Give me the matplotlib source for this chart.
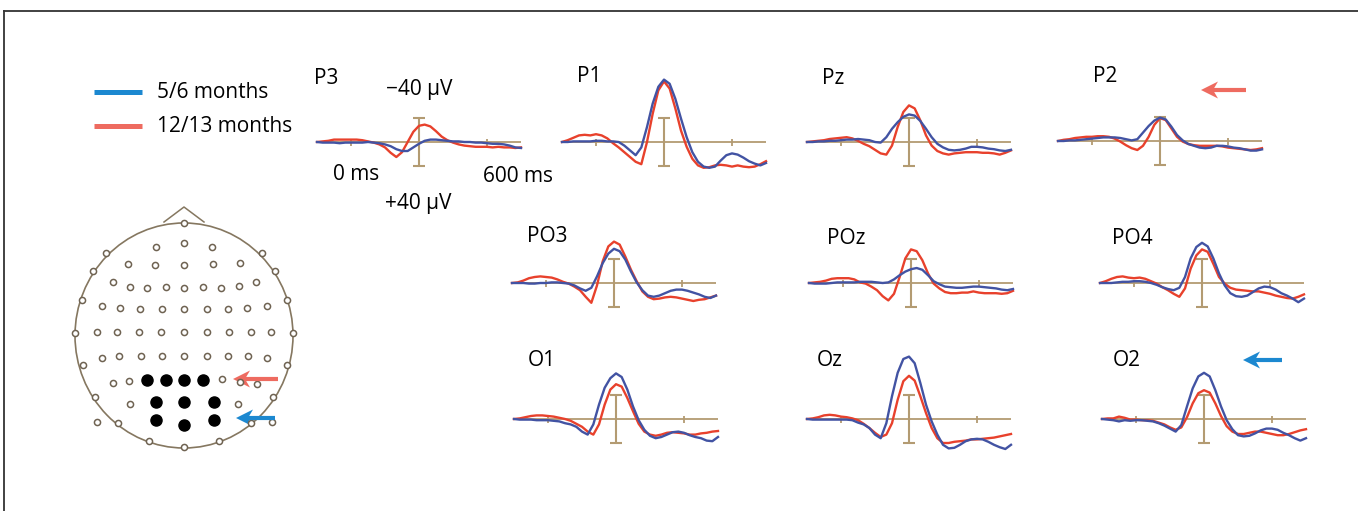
import matplotlib
matplotlib.use('Agg')
import matplotlib.pyplot as plt
from matplotlib.patches import Ellipse, Polygon
import numpy as np

W, H, DPI = 1358, 511, 100

# 采样时间 (ms)，每 25 ms 一个点
times = np.arange(-150, 751, 25)

# 振幅 (µV)，ERP 习惯：负值向上
# 5/6 months
p3_young = [0, 1, 1, 1, 2, 1, 1, 1, 1, 0, 1, 2, 4, 7, 12, 15, 15, 9, 3, -2, -4, -4, -3, -2, -1, -1, 0, 0, 1, 1, 2, 3, 3, 4, 6, 9, 10]
p1_young = [0, 0, -1, -1, -1, -1, -2, -2, -1, -1, 0, 6, 14, 22, 9, -25, -64, -92, -104, -97, -72, -39, -8, 17, 33, 41, 43, 41, 31, 22, 19, 21, 26, 32, 36, 39, 35]
pz_young = [0, 0, -1, -1, -2, -2, -3, -4, -4, -5, -4, -3, 0, 1, -8, -22, -33, -42, -46, -44, -35, -22, -8, 3, 9, 13, 14, 13, 11, 8, 8, 9, 11, 12, 14, 15, 13]
p2_young = [0, 0, -1, -1, -2, -3, -4, -5, -6, -6, -6, -5, -3, -1, -3, -14, -25, -34, -39, -36, -24, -10, -1, 5, 8, 11, 12, 11, 8, 8, 9, 11, 12, 14, 16, 16, 14]
po3_young = [0, 0, 0, 1, 1, 0, 0, -1, -1, 0, 1, 4, 9, 13, 8, -11, -33, -49, -57, -53, -39, -19, -1, 12, 21, 23, 21, 17, 13, 11, 11, 13, 16, 19, 23, 25, 21]
poz_young = [0, 1, 1, 1, 0, -1, -1, -1, -1, -2, -2, -2, -1, 0, -1, -6, -13, -19, -23, -25, -22, -13, -3, 2, 6, 7, 8, 8, 7, 6, 6, 7, 8, 9, 11, 12, 10]
po4_young = [0, 0, 0, -1, -2, -2, -3, -3, -2, 0, 3, 7, 10, 12, 8, -10, -41, -60, -67, -61, -41, -16, 4, 17, 22, 23, 21, 15, 9, 6, 7, 11, 17, 21, 26, 32, 26]
o1_young = [0, 1, 1, 1, 2, 2, 2, 3, 4, 7, 9, 13, 21, 26, 9, -24, -52, -68, -76, -70, -49, -21, 2, 18, 28, 32, 30, 26, 22, 21, 23, 27, 30, 32, 36, 37, 30]
oz_young = [0, 1, 1, 1, 1, 1, 1, 1, 2, 6, 9, 15, 26, 32, 7, -38, -77, -100, -104, -93, -60, -24, 4, 26, 43, 49, 48, 43, 37, 34, 33, 34, 38, 43, 47, 50, 43]
o2_young = [0, 1, 2, 4, 2, 3, 2, 2, 3, 4, 7, 11, 16, 21, 10, -21, -51, -71, -77, -71, -48, -21, 2, 17, 27, 29, 28, 24, 19, 16, 16, 18, 23, 27, 32, 36, 32]

# 12/13 months
p3_old = [0, -1, -2, -4, -4, -4, -4, -4, -3, -1, 1, 4, 9, 18, 25, 17, 0, -17, -27, -29, -26, -18, -9, -3, 1, 4, 6, 7, 8, 8, 8, 9, 8, 9, 9, 10, 9]
p1_old = [0, -3, -7, -11, -12, -11, -13, -11, -6, 2, 9, 17, 25, 33, 37, 0, -47, -86, -101, -89, -56, -19, 8, 28, 39, 43, 42, 39, 38, 39, 41, 39, 41, 42, 41, 37, 32]
pz_old = [0, -1, -2, -3, -5, -6, -7, -8, -6, -2, 3, 7, 13, 19, 21, 6, -25, -50, -61, -56, -36, -11, 6, 15, 19, 21, 19, 18, 17, 17, 17, 18, 18, 19, 21, 18, 14]
p2_old = [0, -2, -3, -5, -6, -7, -7, -8, -8, -7, -4, 1, 7, 12, 15, 8, -7, -27, -38, -35, -21, -7, 1, 5, 7, 8, 8, 8, 8, 9, 11, 12, 13, 14, 15, 14, 12]
po3_old = [0, -1, -4, -8, -10, -11, -10, -9, -6, -2, 1, 6, 12, 23, 33, 4, -36, -61, -69, -64, -44, -22, -3, 14, 23, 27, 26, 24, 23, 24, 26, 28, 30, 28, 27, 24, 21]
poz_old = [0, -1, -2, -4, -7, -8, -8, -8, -6, -1, 1, 6, 12, 22, 29, 18, -10, -41, -56, -53, -38, -16, 1, 9, 15, 17, 17, 16, 16, 14, 16, 17, 17, 17, 18, 17, 13]
po4_old = [0, -3, -7, -10, -11, -9, -8, -9, -7, -3, 1, 7, 12, 18, 23, 9, -24, -46, -56, -52, -32, -10, 1, 8, 11, 12, 13, 14, 14, 16, 18, 21, 23, 25, 26, 23, 19]
o1_old = [0, -1, -3, -5, -6, -6, -5, -4, -2, 0, 3, 8, 13, 21, 26, 9, -24, -49, -58, -54, -35, -13, 8, 21, 26, 28, 26, 23, 22, 23, 24, 26, 26, 24, 23, 21, 20]
oz_old = [0, -1, -3, -6, -7, -6, -4, -3, -1, 2, 8, 15, 23, 30, 26, 7, -32, -63, -72, -64, -38, -10, 15, 32, 40, 40, 38, 37, 36, 34, 34, 33, 32, 31, 29, 27, 25]
o2_old = [0, -1, -1, -4, -2, 1, 1, 2, 2, 3, 6, 9, 14, 18, 14, -3, -26, -43, -48, -44, -26, -5, 12, 21, 25, 25, 23, 21, 21, 23, 25, 27, 27, 25, 22, 19, 17]

channels = ['P3', 'P1', 'Pz', 'P2', 'PO3', 'POz', 'PO4', 'O1', 'Oz', 'O2']
young = [p3_young, p1_young, pz_young, p2_young, po3_young,
         poz_young, po4_young, o1_young, oz_young, o2_young]
old = [p3_old, p1_old, pz_old, p2_old, po3_old,
       poz_old, po4_old, o1_old, oz_old, o2_old]

# 每个面板 (0 ms, 0 µV) 的像素位置，以及通道名的位置
origin_px = [(351, 142), (596, 142), (841, 142), (1092, 141),
             (546, 283), (843, 283), (1134, 283),
             (548, 419), (841, 419), (1136, 419)]
label_px = [(314, 79), (577, 77), (822, 78), (1093, 77),
            (527, 236), (827, 238), (1112, 238),
            (528, 361), (817, 361), (1113, 361)]

# 电极位置（头皮示意图，像素）
electrodes = [
    (184, 223), (156, 247), (184, 243), (212, 247), (106, 253), (262, 253),
    (128, 264), (155, 265), (184, 265), (213, 264), (240, 263), (93, 271), (275, 271),
    (113, 282), (130, 287), (147, 288), (166, 287), (184, 288), (203, 287),
    (221, 288), (239, 286), (256, 282), (82, 300), (287, 300),
    (102, 306), (120, 308), (140, 309), (162, 309), (184, 309), (207, 309),
    (228, 309), (247, 308), (267, 306), (75, 333), (293, 333),
    (97, 332), (117, 332), (139, 332), (161, 332), (184, 332), (207, 332),
    (229, 332), (251, 332), (271, 332),
    (102, 358), (119, 356), (141, 356), (162, 356), (184, 356), (207, 356),
    (228, 356), (248, 356), (267, 358), (83, 365), (287, 365),
    (113, 383), (129, 381), (222, 379), (240, 382), (257, 384),
    (95, 397), (273, 397), (130, 404), (238, 404),
    (97, 422), (118, 423), (251, 423), (272, 422),
    (149, 441), (184, 447), (219, 441)]
selected = [(147, 380), (166, 380), (184, 380), (203, 380),
            (156, 402), (184, 402), (214, 402),
            (156, 420), (184, 425), (214, 420)]

RED = '#e8412c'
BLUE = '#4253a3'
LEG_RED = '#ee6b60'
LEG_BLUE = '#1c88d0'
AXIS = '#b39b72'
FONT = ['Open Sans', 'DejaVu Sans']
FS = 15

K = 136 / 600      # px per ms
A = 0.6            # px per µV
T0, T1 = -150, 750
V_TOP, V_BOT = -120, 60

fig = plt.figure(figsize=(W / DPI, H / DPI), dpi=DPI)
fig.patch.set_facecolor('white')

bg = fig.add_axes([0, 0, 1, 1])
bg.set_xlim(0, W)
bg.set_ylim(H, 0)
bg.axis('off')

# 外框（上、左）
bg.plot([4, W], [11, 11], color='#333333', lw=1.3)
bg.plot([4, 4], [11, H], color='#333333', lw=1.3)

# 图例
bg.plot([94, 142], [92, 92], color=LEG_BLUE, lw=3.6, solid_capstyle='butt')
bg.plot([94, 142], [126, 126], color=LEG_RED, lw=3.6, solid_capstyle='butt')
bg.text(157, 93, '5/6 months', fontsize=FS, family=FONT, va='center', ha='left')
bg.text(157, 126, '12/13 months', fontsize=FS, family=FONT, va='center', ha='left')

# 标尺说明
bg.text(386, 90, '\u221240 µV', fontsize=FS, family=FONT, va='center', ha='left')
bg.text(385, 204, '+40 µV', fontsize=FS, family=FONT, va='center', ha='left')
bg.text(333, 175, '0 ms', fontsize=FS, family=FONT, va='center', ha='left')
bg.text(483, 177, '600 ms', fontsize=FS, family=FONT, va='center', ha='left')

# 头皮示意图
HEAD = '#857760'
bg.add_patch(Ellipse((184, 335.5), 218, 225, fill=False, edgecolor=HEAD, lw=1.2))
bg.plot([164, 184, 204], [222, 207, 222], color=HEAD, lw=1.1)
ex, ey = zip(*electrodes)
bg.plot(ex, ey, 'o', ms=4.4, mfc='white', mec='#6f6352', mew=1.1, ls='none')
sx, sy = zip(*selected)
bg.plot(sx, sy, 'o', ms=8, color='black', ls='none')


def stealth_arrow(ax, tail, tip, color):
    """画燕尾箭头（向左）"""
    (x0, y0), (x1, y1) = tail, tip
    L, hw, notch = 17, 8.5, 5
    ax.plot([x0, x1 + L - notch], [y0, y1], color=color, lw=3,
            solid_capstyle='butt')
    ax.add_patch(Polygon([(x1, y1), (x1 + L, y1 - hw), (x1 + L - notch, y1),
                          (x1 + L, y1 + hw)], closed=True, facecolor=color,
                         edgecolor='none'))


stealth_arrow(bg, (278, 379), (233, 379), LEG_RED)
stealth_arrow(bg, (275, 418), (236, 418), LEG_BLUE)
stealth_arrow(bg, (1246, 90), (1201, 90), LEG_RED)
stealth_arrow(bg, (1282, 360), (1243, 360), LEG_BLUE)

# 波形面板
for name, yv, ov, (ox, oy), (lx, ly) in zip(channels, young, old, origin_px, label_px):
    left = ox + T0 * K
    bottom = oy + V_BOT * A
    ax = fig.add_axes([left / W, 1 - bottom / H, (T1 - T0) * K / W,
                       (V_BOT - V_TOP) * A / H])
    ax.set_xlim(T0, T1)
    ax.set_ylim(V_BOT, V_TOP)
    ax.patch.set_alpha(0)
    ax.axis('off')

    ax.axhline(0, color=AXIS, lw=1.3, zorder=1)
    ax.vlines([0, 600], -5, 7, color=AXIS, lw=1.3, zorder=1)
    ax.vlines(300, -40, 40, color=AXIS, lw=1.5, zorder=1)
    ax.hlines([-40, 40], 275, 325, color=AXIS, lw=1.5, zorder=1)

    ax.plot(times, ov, color=RED, lw=1.7, zorder=2, clip_on=False)
    ax.plot(times, yv, color=BLUE, lw=1.7, zorder=3, clip_on=False)

    bg.text(lx, ly, name, fontsize=FS, family=FONT, va='center', ha='left')

fig.savefig('out.png', dpi=DPI, facecolor='white')
